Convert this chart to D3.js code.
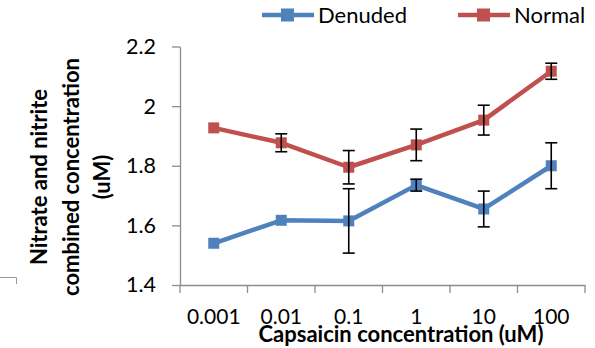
<!DOCTYPE html>
<html>
<head>
<meta charset="utf-8">
<script src="https://cdn.jsdelivr.net/npm/d3@7"></script>
<style>
  body { margin: 0; background: #fff; }
  text { font-family: Lato, "Open Sans", sans-serif; fill: #000; }
</style>
</head>
<body>
<svg id="chart" width="595" height="348"></svg>
<script>
// capsaicin concentrations (uM), shown as categories
const categories = ["0.001", "0.01", "0.1", "1", "10", "100"];

// nitrate + nitrite (uM)
const denuded = [1.540, 1.617, 1.615, 1.735, 1.655, 1.800];
const denudedErr = [0, 0, 0.108, 0.020, 0.060, 0.077];
const normal = [1.927, 1.877, 1.795, 1.870, 1.953, 2.117];
const normalErr = [0, 0.030, 0.056, 0.053, 0.050, 0.027];

const yTicks = [1.4, 1.6, 1.8, 2, 2.2];
const seriesNames = ["Denuded", "Normal"];
const seriesColors = ["#4f81bd", "#c0504d"];

const svg = d3.select("#chart");
const axisColor = "#8c8c8c";

const x = d3.scaleBand().domain(categories).range([180, 585]).padding(0);
const y = d3.scaleLinear().domain([1.4, 2.2]).range([285, 46.5]);

// small bracket fragment at far left of the original crop
svg.append("path")
    .attr("d", "M0,277.5H16.5V284")
    .attr("fill", "none").attr("stroke", "#999").attr("stroke-width", 1);

// y axis
const yAxis = svg.append("g")
    .attr("transform", "translate(180,0)")
    .call(d3.axisLeft(y).tickValues(yTicks).tickSize(8).tickSizeOuter(0).tickPadding(16).tickFormat(d => d + ""));
yAxis.select(".domain").attr("stroke", axisColor).attr("stroke-width", 1.3);
yAxis.selectAll(".tick line").attr("stroke", axisColor).attr("stroke-width", 1.3);
yAxis.selectAll(".tick text").style("font-family", "Lato").style("font-size", "21.5px").attr("fill", "#000");

// x axis: labels at centers, ticks at band edges
const xAxis = svg.append("g")
    .attr("transform", "translate(0,285)")
    .call(d3.axisBottom(x).tickSize(0).tickPadding(24));
xAxis.select(".domain").attr("stroke", axisColor).attr("stroke-width", 1.3);
xAxis.selectAll(".tick text").style("font-family", "Lato").style("font-size", "21px").attr("fill", "#000");

const edges = categories.map(c => x(c)).concat([x(categories[categories.length - 1]) + x.bandwidth()]);
xAxis.selectAll(".edge")
    .data(edges)
    .enter().append("line")
    .attr("x1", d => d).attr("x2", d => d)
    .attr("y1", 0).attr("y2", 8)
    .attr("stroke", axisColor).attr("stroke-width", 1.3);

// axis titles
svg.append("text")
    .attr("x", 401).attr("y", 342)
    .attr("text-anchor", "middle")
    .style("font-weight", "bold").style("font-size", "22px")
    .text("Capsaicin concentration (uM)");

const titleLines = ["Nitrate and nitrite", "combined concentration", "(uM)"];
const titleG = svg.append("g").attr("transform", "translate(0,177) rotate(-90)");
titleG.selectAll("text")
    .data(titleLines)
    .enter().append("text")
    .attr("x", 0)
    .attr("y", (d, i) => 47 + i * 31.5)
    .attr("text-anchor", "middle")
    .style("font-weight", "bold").style("font-size", "22px")
    .text(d => d);

// series
const series = [
    { name: seriesNames[0], values: denuded, err: denudedErr, color: seriesColors[0] },
    { name: seriesNames[1], values: normal, err: normalErr, color: seriesColors[1] }
];

const cx = c => x(c) + x.bandwidth() / 2;

const line = d3.line()
    .x((d, i) => cx(categories[i]))
    .y(d => y(d));

const g = svg.append("g");

series.forEach(s => {
    g.append("path")
        .attr("d", line(s.values))
        .attr("fill", "none")
        .attr("stroke", s.color)
        .attr("stroke-width", 4.5)
        .attr("stroke-linejoin", "round");

    g.selectAll(null)
        .data(s.values)
        .enter().append("rect")
        .attr("x", (d, i) => cx(categories[i]) - 5.5)
        .attr("y", d => y(d) - 5.5)
        .attr("width", 11).attr("height", 11)
        .attr("fill", s.color);
});

// error bars on top
series.forEach(s => {
    const eb = g.selectAll(null)
        .data(s.values.map((v, i) => ({ v: v, e: s.err[i], c: categories[i] })).filter(d => d.e > 0))
        .enter().append("g")
        .attr("stroke", "#000").attr("stroke-width", 1.6);
    eb.append("line")
        .attr("x1", d => cx(d.c)).attr("x2", d => cx(d.c))
        .attr("y1", d => y(d.v + d.e)).attr("y2", d => y(d.v - d.e));
    eb.append("line")
        .attr("x1", d => cx(d.c) - 6).attr("x2", d => cx(d.c) + 6)
        .attr("y1", d => y(d.v + d.e)).attr("y2", d => y(d.v + d.e));
    eb.append("line")
        .attr("x1", d => cx(d.c) - 6).attr("x2", d => cx(d.c) + 6)
        .attr("y1", d => y(d.v - d.e)).attr("y2", d => y(d.v - d.e));
});

// legend
const legendX = [262, 458];
const legend = svg.selectAll(".legend")
    .data(series)
    .enter().append("g")
    .attr("class", "legend")
    .attr("transform", (d, i) => `translate(${legendX[i]},15)`);
legend.append("line")
    .attr("x1", 0).attr("x2", 52)
    .attr("stroke", d => d.color).attr("stroke-width", 4.5);
legend.append("rect")
    .attr("x", 19).attr("y", -6.5).attr("width", 13).attr("height", 13)
    .attr("fill", d => d.color);
legend.append("text")
    .attr("x", 56).attr("y", 0).attr("dy", "0.35em")
    .style("font-size", "22px")
    .text(d => d.name);
</script>
</body>
</html>
